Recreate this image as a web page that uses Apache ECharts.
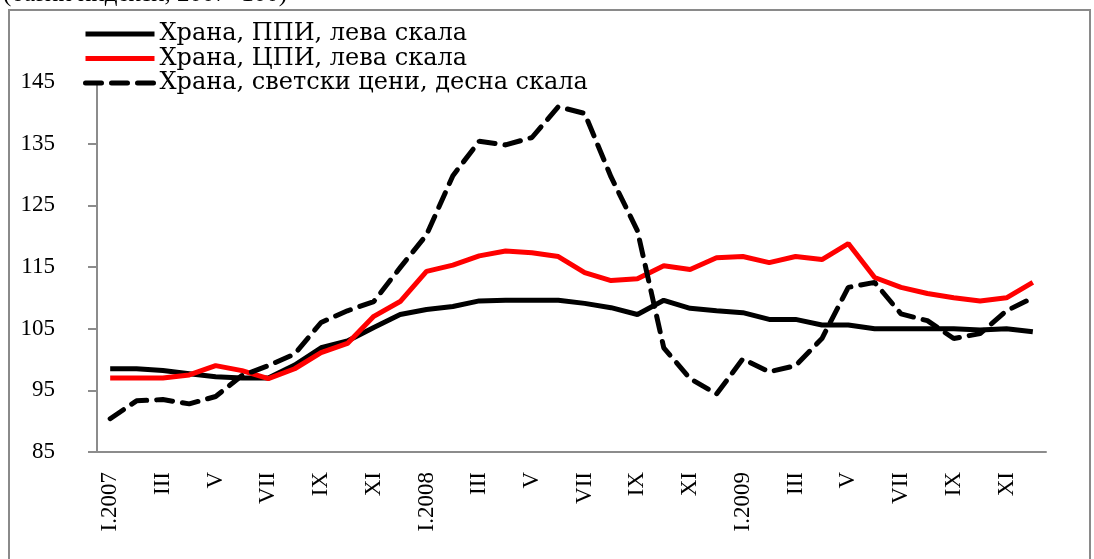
<!DOCTYPE html>
<html>
<head>
<meta charset="utf-8">
<script src="https://cdn.jsdelivr.net/npm/echarts@6/dist/echarts.min.js"></script>
<style>
  html, body { margin: 0; padding: 0; background: #fff; }
  #chart { width: 1094px; height: 559px; }
</style>
</head>
<body>
<div id="chart"></div>
<script>
const roman = ['I', 'II', 'III', 'IV', 'V', 'VI', 'VII', 'VIII', 'IX', 'X', 'XI', 'XII']
const years = [2007, 2008, 2009]
const months = []
years.forEach(y => roman.forEach((r, i) => months.push(i === 0 ? r + '.' + y : r)))

// Храна, ППИ (лева скала)
const ppi = [98.5, 98.5, 98.2, 97.7, 97.2, 97.0, 97.0, 99.1, 101.9, 103.0, 105.2, 107.3,
  108.1, 108.6, 109.5, 109.6, 109.6, 109.6, 109.1, 108.4, 107.3, 109.6, 108.3, 107.9,
  107.6, 106.5, 106.5, 105.6, 105.6, 105.0, 105.0, 105.0, 105.0, 104.8, 105.0, 104.5]

// Храна, ЦПИ (лева скала)
const cpi = [97.0, 97.0, 97.0, 97.5, 99.0, 98.2, 96.9, 98.5, 101.1, 102.6, 107.0, 109.4,
  114.3, 115.3, 116.8, 117.6, 117.3, 116.7, 114.1, 112.8, 113.1, 115.2, 114.6, 116.5,
  116.7, 115.7, 116.7, 116.2, 118.8, 113.3, 111.7, 110.7, 110.0, 109.5, 110.0, 112.5]

// Храна, световни цени (десна скала)
const world = [90.4, 93.3, 93.5, 92.8, 94.0, 97.4, 99.0, 100.9, 106.0, 107.9, 109.4, 114.9,
  120.2, 129.8, 135.4, 134.8, 136.0, 141.0, 139.9, 129.6, 120.9, 101.9, 96.9, 94.4,
  100.1, 98.0, 99.0, 103.4, 111.7, 112.5, 107.4, 106.3, 103.4, 104.2, 107.9, 110.0]

const font = 'Liberation Serif'
const axisGray = '#8c8c8c'

const option = {
  animation: false,
  textStyle: { fontFamily: font },
  grid: { left: 97, right: 48, top: 82, bottom: 107 },
  graphic: [
    {
      type: 'rect',
      shape: { x: 9, y: 10, width: 1081, height: 560 },
      style: { fill: 'none', stroke: '#8a8a8a', lineWidth: 2 }
    },
    {
      type: 'text',
      left: 3, top: -18,
      style: { text: '(базни индекси, 2007=100)', font: '25px "Liberation Serif"', fill: '#000' }
    }
  ],
  legend: {
    orient: 'vertical',
    left: 78,
    top: 17,
    itemWidth: 69,
    itemHeight: 14,
    itemGap: 0.5,
    itemStyle: { opacity: 0 },
    lineStyle: { width: 5 },
    textStyle: { fontFamily: 'DejaVu Serif', fontSize: 24, lineHeight: 22, color: '#000' },
    data: ['Храна, ППИ, лева скала', 'Храна, ЦПИ, лева скала', 'Храна, светски цени, десна скала']
  },
  xAxis: {
    type: 'category',
    data: months,
    boundaryGap: true,
    axisLine: { lineStyle: { color: axisGray, width: 2 } },
    axisTick: { interval: 0, length: 5, lineStyle: { color: axisGray, width: 2 } },
    axisLabel: {
      interval: 1,
      rotate: 90,
      margin: 20,
      fontFamily: font,
      fontSize: 23,
      color: '#000'
    },
    splitLine: { show: false }
  },
  yAxis: [
    {
      type: 'value',
      min: 85,
      max: 145,
      interval: 10,
      axisLine: { show: true, lineStyle: { color: axisGray, width: 2 } },
      axisTick: { show: true, length: 9, lineStyle: { color: axisGray, width: 2 } },
      axisLabel: { margin: 42, fontFamily: font, fontSize: 23, color: '#000' },
      splitLine: { show: false }
    },
    {
      type: 'value',
      min: 85,
      max: 145,
      interval: 10,
      show: false,
      splitLine: { show: false }
    }
  ],
  series: [
    {
      name: 'Храна, ППИ, лева скала',
      type: 'line',
      data: ppi,
      symbol: 'none',
      lineStyle: { color: '#000', width: 5 },
      itemStyle: { color: '#000' }
    },
    {
      name: 'Храна, ЦПИ, лева скала',
      type: 'line',
      data: cpi,
      symbol: 'none',
      lineStyle: { color: '#ff0000', width: 5 },
      itemStyle: { color: '#ff0000' }
    },
    {
      name: 'Храна, светски цени, десна скала',
      type: 'line',
      yAxisIndex: 1,
      data: world,
      symbol: 'none',
      lineStyle: { color: '#000', width: 5, type: [16, 10], cap: 'round' },
      itemStyle: { color: '#000' }
    }
  ]
}

const chart = echarts.init(document.getElementById('chart'))
chart.setOption(option)
</script>
</body>
</html>
